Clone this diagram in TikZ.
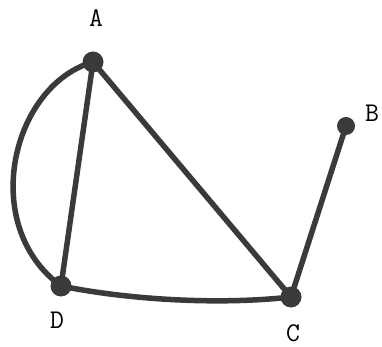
\documentclass[tikz,border=0pt]{standalone}
\begin{document}
\begin{tikzpicture}[x=1pt,y=-1pt,
  vert/.style={circle,fill=ink,inner sep=0pt,minimum size=21pt},
  lab/.style={font=\ttfamily\fontsize{27}{27}\selectfont,text=black,inner sep=0pt},
  edge/.style={draw=ink,line width=5.5pt,line cap=round}]
\definecolor{ink}{HTML}{3A3A3A}
\useasboundingbox (0,0) rectangle (382,347);
\node[vert] (A) at (93,62) {};
\node[vert,minimum size=18pt] (B) at (346,126) {};
\node[vert] (C) at (291,297) {};
\node[vert] (D) at (61,286) {};
\node[lab] (la) at (96,18) {A};
\node[lab] (lb) at (372,113) {B};
\node[lab] (lc) at (293,333) {C};
\node[lab] (ld) at (57,320) {D};
\draw[edge] (A.center) -- (D.center);
\draw[edge] (A.center) .. controls (12,85) and (-22,225) .. (D.center);
\draw[edge] (A.center) -- (C.center);
\draw[edge] (D.center) .. controls (130,300) and (220,305) .. (C.center);
\draw[edge] (C.center) -- (B.center);
\end{tikzpicture}
\end{document}
